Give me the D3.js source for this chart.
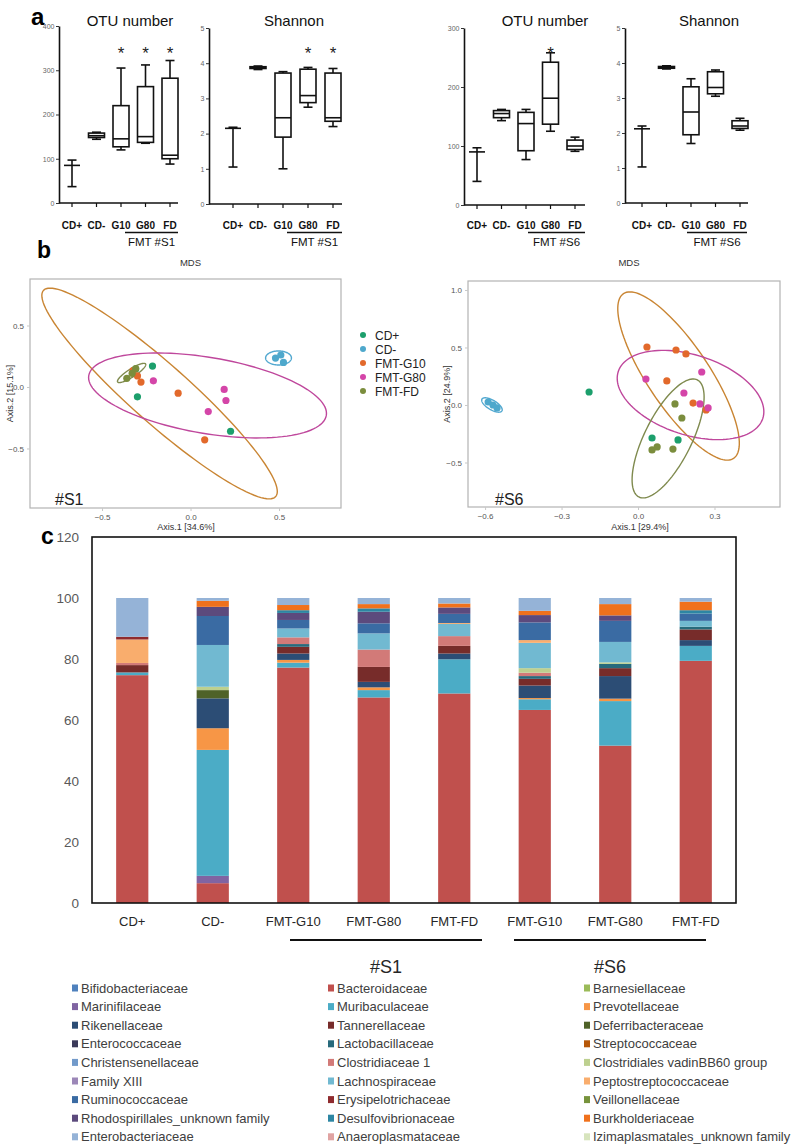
<!DOCTYPE html>
<html><head><meta charset="utf-8">
<script src="https://cdn.jsdelivr.net/npm/d3@7"></script>
<style>body{margin:0;background:#fff}</style>
</head><body>
<svg id="c" width="800" height="1145"></svg>
<script>
// ================= Panel a data =================
const boxCats = ["CD+", "CD-", "G10", "G80", "FD"];
// each entry: [min, q1, median, q3, max]
const otuS1 = [[37, 85, 85, 85, 97], [144, 148, 152, 158, 160], [120, 127, 145, 220, 305], [135, 137, 150, 263, 312], [88, 100, 108, 282, 322]];
const shanS1 = [[1.05, 2.15, 2.15, 2.15, 2.18], [3.82, 3.85, 3.87, 3.9, 3.92], [1.0, 1.9, 2.45, 3.72, 3.76], [2.75, 2.88, 3.08, 3.83, 3.88], [2.2, 2.35, 2.45, 3.72, 3.85]];
const otuS6 = [[40, 90, 90, 90, 97], [143, 148, 155, 160, 162], [77, 92, 138, 157, 162], [125, 137, 181, 242, 258], [91, 94, 100, 110, 115]];
const shanS6 = [[1.03, 2.12, 2.12, 2.12, 2.2], [3.83, 3.85, 3.87, 3.9, 3.92], [1.7, 1.95, 2.6, 3.32, 3.55], [3.05, 3.12, 3.3, 3.75, 3.8], [2.08, 2.13, 2.2, 2.35, 2.42]];
const starOtuS1 = [0, 0, 1, 1, 1];
const starShanS1 = [0, 0, 0, 1, 1];
const starOtuS6 = [0, 0, 0, 1, 0];
const starShanS6 = [0, 0, 0, 0, 0];
const otuTicksS1 = [0, 100, 200, 300, 400];
const otuTicksS6 = [0, 100, 200, 300];
const shanTicks = [0, 1, 2, 3, 4, 5];

// ================= Panel b data =================
const mdsGroups = ["CD+", "CD-", "FMT-G10", "FMT-G80", "FMT-FD"];
const mdsColors = ["#1c9f6c", "#4ea8cc", "#e2692b", "#d445a8", "#7b8d3d"];
const ellColors = ["#1c9f6c", "#52a8d0", "#c98533", "#bf479c", "#7f8a4e"];
const s1Group = [0, 0, 0, 0, 1, 1, 1, 2, 2, 2, 2, 2, 3, 3, 3, 3, 4, 4, 4];
const s1X = [-0.31, -0.215, -0.30, 0.226, 0.48, 0.51, 0.525, -0.325, -0.30, -0.28, -0.07, 0.08, -0.21, 0.19, 0.20, 0.10, -0.36, -0.33, -0.31];
const s1Y = [0.146, 0.17, -0.08, -0.36, 0.235, 0.26, 0.20, 0.133, 0.09, 0.04, -0.05, -0.43, 0.05, -0.02, -0.11, -0.20, 0.07, 0.11, 0.15];
// ellipses: group, centre, two conjugate semi-axes (data units)
const s1EllGroup = [1, 2, 3, 4];
const s1EllC = [[0.497, 0.236], [-0.175, -0.053], [0.096, -0.069], [-0.333, 0.114]];
const s1EllA = [[0.073, 0], [0.656, -0.838], [0.671, -0.162], [0.079, 0.073]];
const s1EllB = [[0, -0.057], [-0.11, -0.178], [-0.0356, -0.305], [0.012, -0.028]];
const s1XTicks = [-0.5, 0.0, 0.5];
const s1YTicks = [-0.5, 0.0, 0.5];

const s6Group = [0, 0, 0, 1, 1, 1, 2, 2, 2, 2, 2, 2, 3, 3, 3, 3, 3, 4, 4, 4, 4, 4];
const s6X = [-0.192, 0.055, 0.157, -0.588, -0.569, -0.553, 0.035, 0.149, 0.188, 0.113, 0.216, 0.267, 0.031, 0.25, 0.18, 0.243, 0.275, 0.145, 0.172, 0.055, 0.075, 0.137];
const s6Y = [0.113, -0.287, -0.304, 0.026, 0, -0.026, 0.504, 0.478, 0.444, 0.209, 0.017, -0.043, 0.226, 0.287, 0.104, 0.009, -0.026, 0.009, -0.113, -0.391, -0.365, -0.383];
const s6EllGroup = [1, 2, 3, 4];
const s6EllC = [[-0.573, 0], [0.159, 0.252], [0.206, 0.087], [0.118, -0.291]];
const s6EllA = [[0.039, -0.052], [0.216, -0.716], [0.2835, -0.204], [0.1145, 0.509]];
const s6EllB = [[-0.0098, -0.035], [-0.101, -0.150], [-0.0486, -0.330], [0.0827, -0.0913]];
const s6XTicks = [-0.6, -0.3, 0.0, 0.3];
const s6YTicks = [-0.5, 0.0, 0.5, 1.0];

// ================= Panel c data =================
const samples = ["CD+", "CD-", "FMT-G10 ", "FMT-G80 ", "FMT-FD ", "FMT-G10", "FMT-G80", "FMT-FD"];
const sampleLabels = ["CD+", "CD-", "FMT-G10", "FMT-G80", "FMT-FD", "FMT-G10", "FMT-G80", "FMT-FD"];
const families = ["Bifidobacteriaceae", "Bacteroidaceae", "Barnesiellaceae", "Marinifilaceae", "Muribaculaceae", "Prevotellaceae",
  "Rikenellaceae", "Tannerellaceae", "Deferribacteraceae", "Enterococcaceae", "Lactobacillaceae", "Streptococcaceae",
  "Christensenellaceae", "Clostridiaceae 1", "Clostridiales vadinBB60 group", "Family XIII", "Lachnospiraceae", "Peptostreptococcaceae",
  "Ruminococcaceae", "Erysipelotrichaceae", "Veillonellaceae", "Rhodospirillales_unknown family", "Desulfovibrionaceae", "Burkholderiaceae",
  "Enterobacteriaceae", "Anaeroplasmataceae", "Izimaplasmatales_unknown family"];
const familyColors = ["#4f81bd", "#c0504d", "#9bbb59", "#8064a2", "#4bacc6", "#f79646",
  "#2c4d75", "#772c2a", "#4f6228", "#3b3a5a", "#276a7c", "#b65708",
  "#729aca", "#d27a78", "#bdd08f", "#9c87b8", "#71b9d1", "#f9ad6d",
  "#3a6ba3", "#8f2b2e", "#77933c", "#5c4a7d", "#2d86a3", "#f0711c",
  "#95b3d7", "#e0a3a2", "#d7e4bd"];
const abBifidobacteriaceae = [0, 0, 0, 0, 0, 0, 0, 0];
const abBacteroidaceae = [74.7, 6.5, 77.2, 67.4, 68.7, 63.3, 51.6, 79.4];
const abBarnesiellaceae = [0, 0, 0, 0, 0, 0, 0, 0];
const abMarinifilaceae = [0, 2.4, 0, 0, 0, 0, 0, 0];
const abMuribaculaceae = [0.9, 41.3, 1.6, 2.4, 11.2, 3.5, 14.6, 4.9];
const abPrevotellaceae = [0, 7.1, 0.9, 0.9, 0, 0.4, 0.8, 0];
const abRikenellaceae = [0, 9.8, 2.1, 1.8, 1.9, 4.1, 7.4, 1.9];
const abTannerellaceae = [2.4, 0, 2.2, 4.9, 2.5, 2.2, 2.6, 3.5];
const abDeferribacteraceae = [0, 2.7, 0, 0, 0, 0, 0, 0];
const abEnterococcaceae = [0, 0, 0, 0, 0, 0, 0, 0];
const abLactobacillaceae = [0, 0, 0.9, 0, 0, 0.9, 1.4, 0.9];
const abStreptococcaceae = [0, 0, 0, 0, 0, 0, 0, 0];
const abChristensenellaceae = [0, 0, 0, 0, 0, 0, 0, 0];
const abClostridiaceae1 = [0.7, 0, 2.2, 5.7, 3.2, 1.1, 0, 0];
const abVadinBB60 = [0, 1.1, 0, 0, 0, 1.5, 0.5, 0];
const abFamilyXIII = [0, 0, 0, 0, 0, 0, 0, 0];
const abLachnospiraceae = [0, 13.7, 2.9, 5.3, 4.0, 8.3, 6.7, 1.9];
const abPeptostreptococcaceae = [7.7, 0, 0, 0, 0.3, 0.9, 0, 0];
const abRuminococcaceae = [0, 9.5, 2.8, 3.3, 3.0, 5.8, 6.9, 2.4];
const abErysipelotrichaceae = [0.9, 0, 0, 0, 0, 0, 0, 0];
const abVeillonellaceae = [0, 0, 0, 0, 0, 0, 0, 0];
const abRhodospirillales = [0, 3.0, 2.3, 3.8, 2.1, 2.4, 1.8, 0];
const abDesulfovibrionaceae = [0, 0, 0.9, 1.1, 0, 0, 0, 1.1];
const abBurkholderiaceae = [0, 2.0, 1.7, 1.4, 1.3, 1.4, 3.7, 2.8];
const abEnterobacteriaceae = [12.7, 0.9, 2.3, 2.0, 1.8, 4.2, 2.0, 1.2];
const abAnaeroplasmataceae = [0, 0, 0, 0, 0, 0, 0, 0];
const abIzimaplasmatales = [0, 0, 0, 0, 0, 0, 0, 0];
const abundance = [abBifidobacteriaceae, abBacteroidaceae, abBarnesiellaceae, abMarinifilaceae, abMuribaculaceae, abPrevotellaceae,
  abRikenellaceae, abTannerellaceae, abDeferribacteraceae, abEnterococcaceae, abLactobacillaceae, abStreptococcaceae,
  abChristensenellaceae, abClostridiaceae1, abVadinBB60, abFamilyXIII, abLachnospiraceae, abPeptostreptococcaceae,
  abRuminococcaceae, abErysipelotrichaceae, abVeillonellaceae, abRhodospirillales, abDesulfovibrionaceae, abBurkholderiaceae,
  abEnterobacteriaceae, abAnaeroplasmataceae, abIzimaplasmatales];
const cTicks = [0, 20, 40, 60, 80, 100, 120];

// ================= drawing =================
const svg = d3.select("#c");
const ARIAL = "Arial, 'Liberation Sans', sans-serif";
const NARROW = "'Liberation Sans Narrow', 'Arial Narrow', Arial, sans-serif";

// panel letters
svg.append("text").attr("x", 31).attr("y", 25).attr("font-family", ARIAL).attr("font-weight", "bold").attr("font-size", 24).text("a");
svg.append("text").attr("x", 37).attr("y", 258).attr("font-family", ARIAL).attr("font-weight", "bold").attr("font-size", 23).text("b");
svg.append("text").attr("x", 41).attr("y", 544).attr("font-family", ARIAL).attr("font-weight", "bold").attr("font-size", 23).text("c");

function boxPanel(p, data, stars) {
  const g = svg.append("g");
  const x = d3.scalePoint().domain(boxCats).range([p.c0, p.c1]);
  const y = d3.scaleLinear().domain([0, p.max]).range([p.yb, p.yt]);
  const ya = d3.axisLeft(y).tickValues(p.ticks).tickSize(3).tickPadding(1.5).tickSizeOuter(0).tickFormat(d3.format("d"));
  g.append("g").attr("transform", `translate(${p.x0},0)`).call(ya).call(s => {
    s.select(".domain").attr("stroke", "#111").attr("stroke-width", 1.6);
    s.selectAll(".tick line").attr("stroke", "#333");
    s.selectAll("text").attr("font-size", 7).attr("fill", "#666").attr("font-family", ARIAL);
  });
  g.append("line").attr("x1", p.x0).attr("x2", p.x1).attr("y1", y(0)).attr("y2", y(0)).attr("stroke", "#111").attr("stroke-width", 1.6);
  g.selectAll(".xt").data(boxCats).join("line").attr("x1", d => x(d)).attr("x2", d => x(d))
    .attr("y1", y(0)).attr("y2", y(0) + 4).attr("stroke", "#111").attr("stroke-width", 1.2);
  const bw = 16, cw = 9;
  boxCats.forEach((c, i) => {
    const [mn, q1, md, q3, mx] = data[i];
    const cx = x(c);
    const gg = g.append("g").attr("stroke", "#111").attr("stroke-width", 1.6).attr("fill", "none");
    gg.append("line").attr("x1", cx).attr("x2", cx).attr("y1", y(mx)).attr("y2", y(q3));
    gg.append("line").attr("x1", cx).attr("x2", cx).attr("y1", y(q1)).attr("y2", y(mn));
    gg.append("line").attr("x1", cx - cw / 2).attr("x2", cx + cw / 2).attr("y1", y(mx)).attr("y2", y(mx));
    gg.append("line").attr("x1", cx - cw / 2).attr("x2", cx + cw / 2).attr("y1", y(mn)).attr("y2", y(mn));
    if (q3 > q1) gg.append("rect").attr("x", cx - bw / 2).attr("width", bw).attr("y", y(q3)).attr("height", y(q1) - y(q3));
    gg.append("line").attr("x1", cx - bw / 2).attr("x2", cx + bw / 2).attr("y1", y(md)).attr("y2", y(md));
    if (stars[i]) g.append("text").attr("x", cx).attr("y", 59).attr("text-anchor", "middle").attr("font-family", ARIAL).attr("font-size", 17).attr("fill", "#222").text("*");
  });
  g.selectAll(".cl").data(boxCats).join("text").attr("x", d => x(d)).attr("y", 229).attr("text-anchor", "middle")
    .attr("font-family", ARIAL).attr("font-weight", "bold").attr("font-size", 10).attr("fill", "#111").text(d => d);
  g.append("line").attr("x1", p.u0).attr("x2", p.u1).attr("y1", 232.5).attr("y2", 232.5).attr("stroke", "#111").attr("stroke-width", 1.3);
  g.append("text").attr("x", (p.u0 + p.u1) / 2).attr("y", 246).attr("text-anchor", "middle").attr("font-family", ARIAL)
    .attr("font-size", 11.5).attr("fill", "#111").text(p.fmt);
  g.append("text").attr("x", p.tx).attr("y", 26).attr("text-anchor", "middle").attr("font-family", ARIAL).attr("font-size", 15)
    .attr("fill", "#111").text(p.title);
}
boxPanel({ x0: 59, x1: 178, c0: 72, c1: 170, yt: 26, yb: 203, max: 400, ticks: otuTicksS1, u0: 125, u1: 178, fmt: "FMT #S1", tx: 130, title: "OTU number" }, otuS1, starOtuS1);
boxPanel({ x0: 209, x1: 342, c0: 233, c1: 333, yt: 28, yb: 204, max: 5, ticks: shanTicks, u0: 287, u1: 342, fmt: "FMT #S1", tx: 294, title: "Shannon" }, shanS1, starShanS1);
boxPanel({ x0: 464, x1: 585, c0: 477, c1: 575, yt: 28, yb: 205, max: 300, ticks: otuTicksS6, u0: 528, u1: 585, fmt: "FMT #S6", tx: 545, title: "OTU number" }, otuS6, starOtuS6);
boxPanel({ x0: 625, x1: 748, c0: 642, c1: 740, yt: 28, yb: 203, max: 5, ticks: shanTicks, u0: 687, u1: 747, fmt: "FMT #S6", tx: 709, title: "Shannon" }, shanS6, starShanS6);

// ---------- Panel b ----------
function mdsPanel(p, grp, xs, ys, eg, ec, ea, eb) {
  const g = svg.append("g");
  const x = d3.scaleLinear().domain(p.xd).range([p.l, p.r]);
  const y = d3.scaleLinear().domain(p.yd).range([p.b, p.t]);
  g.append("rect").attr("x", p.l).attr("y", p.t).attr("width", p.r - p.l).attr("height", p.b - p.t)
    .attr("fill", "none").attr("stroke", "#b3b3b3").attr("stroke-width", 1.2);
  const tickStyle = s => {
    s.select(".domain").remove();
    s.selectAll(".tick line").attr("stroke", "#c8c8c8");
    s.selectAll("text").attr("font-size", 8).attr("fill", "#555").attr("font-family", ARIAL);
  };
  g.append("g").attr("transform", `translate(0,${p.b})`).call(d3.axisBottom(x).tickValues(p.xt).tickSize(3).tickFormat(d3.format(".1f"))).call(tickStyle);
  g.append("g").attr("transform", `translate(${p.l},0)`).call(d3.axisLeft(y).tickValues(p.yt).tickSize(3).tickFormat(d3.format(".1f"))).call(tickStyle);
  g.append("text").attr("x", (p.l + p.r) / 2 + 5).attr("y", 266).attr("text-anchor", "middle").attr("font-family", ARIAL).attr("font-size", 9.5).attr("fill", "#333").text("MDS");
  g.append("text").attr("x", p.axX).attr("y", 530).attr("text-anchor", "middle").attr("font-family", ARIAL).attr("font-size", 9).attr("fill", "#333").text(p.ax1);
  g.append("text").attr("transform", `translate(${p.ayX},${(p.t + p.b) / 2}) rotate(-90)`).attr("text-anchor", "middle").attr("font-family", ARIAL).attr("font-size", 9).attr("fill", "#333").text(p.ax2);
  const line = d3.line().x(d => x(d[0])).y(d => y(d[1])).curve(d3.curveLinearClosed);
  const ts = d3.range(0, 2 * Math.PI, Math.PI / 60);
  eg.forEach((gi, k) => {
    const pts = ts.map(t => [ec[k][0] + Math.cos(t) * ea[k][0] + Math.sin(t) * eb[k][0], ec[k][1] + Math.cos(t) * ea[k][1] + Math.sin(t) * eb[k][1]]);
    g.append("path").attr("d", line(pts)).attr("fill", "none").attr("stroke", ellColors[gi]).attr("stroke-width", 1.4);
  });
  g.selectAll(".pt").data(xs).join("circle").attr("cx", d => x(d)).attr("cy", (d, i) => y(ys[i])).attr("r", 3.6)
    .attr("fill", (d, i) => mdsColors[grp[i]]);
  g.append("text").attr("x", p.lab[0]).attr("y", p.lab[1]).attr("font-family", ARIAL).attr("font-size", 16).attr("fill", "#222").text(p.name);
}
mdsPanel({ l: 30, r: 341, t: 279, b: 508, xd: [-0.907, 0.850], yd: [-0.984, 0.878], xt: s1XTicks, yt: s1YTicks, axX: 186, ax1: "Axis.1   [34.6%]", ayX: 13, ax2: "Axis.2   [15.1%]", lab: [55, 505], name: "#S1" },
  s1Group, s1X, s1Y, s1EllGroup, s1EllC, s1EllA, s1EllB);
mdsPanel({ l: 468, r: 780, t: 281, b: 507, xd: [-0.667, 0.557], yd: [-0.887, 1.078], xt: s6XTicks, yt: s6YTicks, axX: 640, ax1: "Axis.1   [29.4%]", ayX: 450, ax2: "Axis.2   [24.9%]", lab: [495, 505], name: "#S6" },
  s6Group, s6X, s6Y, s6EllGroup, s6EllC, s6EllA, s6EllB);
// legend b
const lg = svg.append("g");
mdsGroups.forEach((gname, i) => {
  lg.append("circle").attr("cx", 363).attr("cy", 335 + i * 14).attr("r", 3).attr("fill", mdsColors[i]);
  lg.append("text").attr("x", 375).attr("y", 339.5 + i * 14).attr("font-family", ARIAL).attr("font-size", 12).attr("fill", "#222").text(gname);
});

// ---------- Panel c ----------
const cg = svg.append("g");
const cx = d3.scaleBand().domain(samples).range([92, 736]).paddingInner(0.6).paddingOuter(0.3);
const cy = d3.scaleLinear().domain([0, 120]).range([903, 537]);
const rows = samples.map((s, j) => { const r = { sample: s }; families.forEach((f, k) => r[f] = abundance[k][j]); return r; });
const stacked = d3.stack().keys(families)(rows);
stacked.forEach((layer, k) => {
  cg.append("g").attr("fill", familyColors[k]).selectAll("rect").data(layer).join("rect")
    .attr("x", d => cx(d.data.sample)).attr("width", cx.bandwidth())
    .attr("y", d => cy(d[1])).attr("height", d => Math.max(0, cy(d[0]) - cy(d[1])));
});
cg.append("rect").attr("x", 92).attr("y", 537).attr("width", 736 - 92).attr("height", 903 - 537).attr("fill", "none").attr("stroke", "#111").attr("stroke-width", 1.6);
cg.selectAll(".yl").data(cTicks).join("text").attr("x", 79).attr("y", d => cy(d) + 5).attr("text-anchor", "end")
  .attr("font-family", ARIAL).attr("font-size", 13.5).attr("fill", "#595959").text(d => d);
cg.selectAll(".xl").data(samples).join("text").attr("x", d => cx(d) + cx.bandwidth() / 2).attr("y", 926).attr("text-anchor", "middle")
  .attr("font-family", NARROW).attr("font-size", 13).attr("fill", "#262626").text((d, i) => sampleLabels[i]);
[[290, 482, "#S1"], [514, 706, "#S6"]].forEach(([a, b, t]) => {
  cg.append("line").attr("x1", a).attr("x2", b).attr("y1", 940).attr("y2", 940).attr("stroke", "#111").attr("stroke-width", 1.8);
  cg.append("text").attr("x", (a + b) / 2).attr("y", 973).attr("text-anchor", "middle").attr("font-family", NARROW).attr("font-size", 18).attr("fill", "#262626").text(t);
});
// legend c (row-wise, 3 columns)
const colX = [72, 328, 584];
families.forEach((f, k) => {
  const col = k % 3, row = Math.floor(k / 3);
  const yy = 988 + row * 18.6;
  cg.append("rect").attr("x", colX[col]).attr("y", yy - 3.5).attr("width", 6).attr("height", 7).attr("fill", familyColors[k]);
  cg.append("text").attr("x", colX[col] + 9).attr("y", yy + 4.5).attr("font-family", NARROW).attr("font-size", 13).attr("fill", "#404040").text(f);
});
</script>
</body></html>
